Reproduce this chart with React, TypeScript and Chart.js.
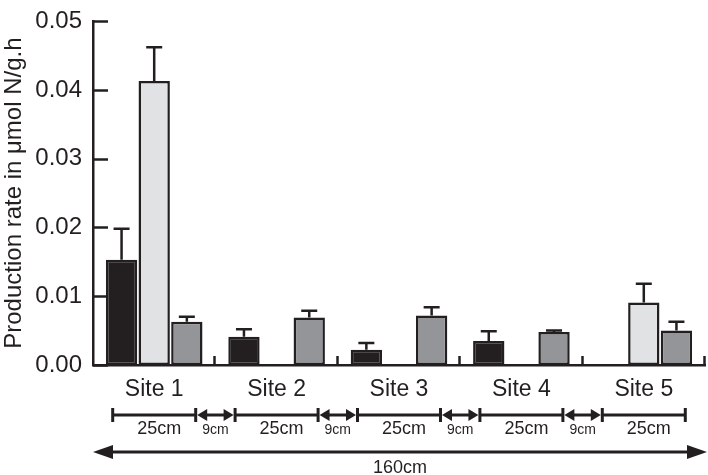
import React, { useEffect, useRef } from 'react';
import { Chart, registerables } from 'chart.js';

Chart.register(...registerables);

// ---- Data ----
const sites = ['Site 1', 'Site 2', 'Site 3', 'Site 4', 'Site 5'];
const seriesBlack = [0.0153, 0.0041, 0.0022, 0.0035, null];
const errBlack = [0.0045, 0.0011, 0.001, 0.0014, null];
const seriesLight = [0.0413, null, null, null, 0.0091];
const errLight = [0.0049, null, null, null, 0.0027];
const seriesDark = [0.0063, 0.0069, 0.0072, 0.0048, 0.005];
const errDark = [0.0007, 0.001, 0.0012, 0.0002, 0.0013];
const yTicks = [0, 0.01, 0.02, 0.03, 0.04, 0.05];
const segmentLabel = '25cm';
const gapLabel = '9cm';
const totalLabel = '160cm';
const yTitle = 'Production rate in \u03bcmol N/g.h';

const INK = '#231f20';
const FONT = '"Liberation Sans", Arial, Helvetica, sans-serif';
const errors = [errBlack, errLight, errDark];

const decorPlugin = {
  id: 'decor',
  afterDraw(chart: any) {
    const ctx = chart.ctx as CanvasRenderingContext2D;
    const xs = chart.scales.x;
    const ys = chart.scales.y;
    const area = chart.chartArea;
    ctx.save();
    ctx.strokeStyle = INK;
    ctx.fillStyle = INK;
    ctx.lineCap = 'butt';

    // inward y ticks
    ctx.lineWidth = 2.5;
    yTicks.forEach((v) => {
      const y = Math.round(ys.getPixelForValue(v)) + 0.5;
      ctx.beginPath();
      ctx.moveTo(area.left, y);
      ctx.lineTo(area.left + 15, y);
      ctx.stroke();
    });

    // x boundary ticks
    const n = sites.length;
    const cw = (area.right - area.left) / n;
    for (let i = 1; i <= n; i++) {
      const x = Math.round(area.left + i * cw) - 0.5;
      ctx.beginPath();
      ctx.moveTo(x, area.bottom);
      ctx.lineTo(x, area.bottom - 9);
      ctx.stroke();
    }

    // error bars (upper only)
    ctx.lineWidth = 2.5;
    chart.data.datasets.forEach((ds: any, di: number) => {
      const meta = chart.getDatasetMeta(di);
      ds.data.forEach((v: number | null, j: number) => {
        const e = errors[di][j];
        if (v == null || e == null) return;
        const el = meta.data[j];
        const x = el.x;
        const y0 = ys.getPixelForValue(v);
        const y1 = ys.getPixelForValue(v + e);
        ctx.beginPath();
        ctx.moveTo(x, y0);
        ctx.lineTo(x, y1);
        ctx.moveTo(x - 8, y1);
        ctx.lineTo(x + 8, y1);
        ctx.stroke();
      });
    });

    // distance annotations
    const segY = 415;
    const half = cw * 0.339;
    const segs = sites.map((_, j) => {
      const c = xs.getPixelForValue(j);
      return [c - half, c + half, c];
    });
    ctx.lineWidth = 3;
    segs.forEach(([a, b, c]) => {
      ctx.beginPath();
      ctx.moveTo(a, segY);
      ctx.lineTo(b, segY);
      ctx.moveTo(a, segY - 7);
      ctx.lineTo(a, segY + 7);
      ctx.moveTo(b, segY - 7);
      ctx.lineTo(b, segY + 7);
      ctx.stroke();
      ctx.font = `18px ${FONT}`;
      ctx.textAlign = 'center';
      ctx.textBaseline = 'alphabetic';
      ctx.fillText(segmentLabel, c + 5, 434);
    });
    for (let j = 0; j < segs.length - 1; j++) {
      const a = segs[j][1] + 1.5;
      const b = segs[j + 1][0] - 1.5;
      ctx.beginPath();
      ctx.moveTo(a + 8, segY);
      ctx.lineTo(b - 8, segY);
      ctx.stroke();
      ctx.beginPath();
      ctx.moveTo(a, segY);
      ctx.lineTo(a + 10, segY - 6);
      ctx.lineTo(a + 10, segY + 6);
      ctx.closePath();
      ctx.fill();
      ctx.beginPath();
      ctx.moveTo(b, segY);
      ctx.lineTo(b - 10, segY - 6);
      ctx.lineTo(b - 10, segY + 6);
      ctx.closePath();
      ctx.fill();
      ctx.font = `14px ${FONT}`;
      ctx.textAlign = 'center';
      ctx.fillText(gapLabel, (a + b) / 2, 434);
    }

    // total arrow
    const ay = 452;
    const ax0 = area.left;
    const ax1 = chart.width - 1;
    ctx.lineWidth = 3;
    ctx.beginPath();
    ctx.moveTo(ax0 + 15, ay);
    ctx.lineTo(ax1 - 15, ay);
    ctx.stroke();
    ctx.beginPath();
    ctx.moveTo(ax0, ay);
    ctx.lineTo(ax0 + 20, ay - 7);
    ctx.lineTo(ax0 + 20, ay + 7);
    ctx.closePath();
    ctx.fill();
    ctx.beginPath();
    ctx.moveTo(ax1, ay);
    ctx.lineTo(ax1 - 20, ay - 7);
    ctx.lineTo(ax1 - 20, ay + 7);
    ctx.closePath();
    ctx.fill();
    ctx.font = `18px ${FONT}`;
    ctx.textAlign = 'center';
    ctx.fillText(totalLabel, (ax0 + ax1) / 2, 473);

    ctx.restore();
  },
};

export default function App() {
  const ref = useRef<HTMLCanvasElement>(null);
  useEffect(() => {
    const canvas = ref.current;
    if (!canvas) return;
    const barCommon = {
      borderColor: INK,
      borderWidth: 2.5,
      borderSkipped: false,
      categoryPercentage: 0.8,
      barPercentage: 0.96,
    };
    const chart = new Chart(canvas, {
      type: 'bar',
      data: {
        labels: sites,
        datasets: [
          { ...barCommon, data: seriesBlack, backgroundColor: INK } as any,
          { ...barCommon, data: seriesLight, backgroundColor: '#e1e2e3' } as any,
          { ...barCommon, data: seriesDark, backgroundColor: '#939598' } as any,
        ],
      },
      options: {
        responsive: false,
        animation: false,
        layout: { padding: { top: 10, right: 3, left: 0, bottom: 0 } },
        plugins: { legend: { display: false }, tooltip: { enabled: false } },
        scales: {
          x: {
            grid: { display: false, drawTicks: false },
            border: { display: true, color: INK, width: 2.5 },
            ticks: { color: INK, font: { family: FONT, size: 23 }, padding: 11 },
            afterFit: (s: any) => {
              s.height = 110;
            },
          },
          y: {
            min: 0,
            max: 0.05,
            grid: { display: false, drawTicks: false },
            border: { display: true, color: INK, width: 2.5 },
            ticks: {
              stepSize: 0.01,
              color: INK,
              padding: 11,
              font: { family: FONT, size: 24, lineHeight: 0.85 },
              callback: (v: any) => Number(v).toFixed(2),
            },
            title: {
              display: true,
              text: yTitle,
              color: INK,
              font: { family: FONT, size: 24 },
              padding: 0,
            },
            afterFit: (s: any) => {
              s.width = 93;
            },
          },
        },
      } as any,
      plugins: [decorPlugin],
    });
    return () => chart.destroy();
  }, []);
  return (
    <div style={{ position: 'fixed', left: 0, top: 0, width: 708, height: 475, background: '#fff' }}>
      <canvas ref={ref} width={708} height={475} style={{ display: 'block' }} />
    </div>
  );
}
